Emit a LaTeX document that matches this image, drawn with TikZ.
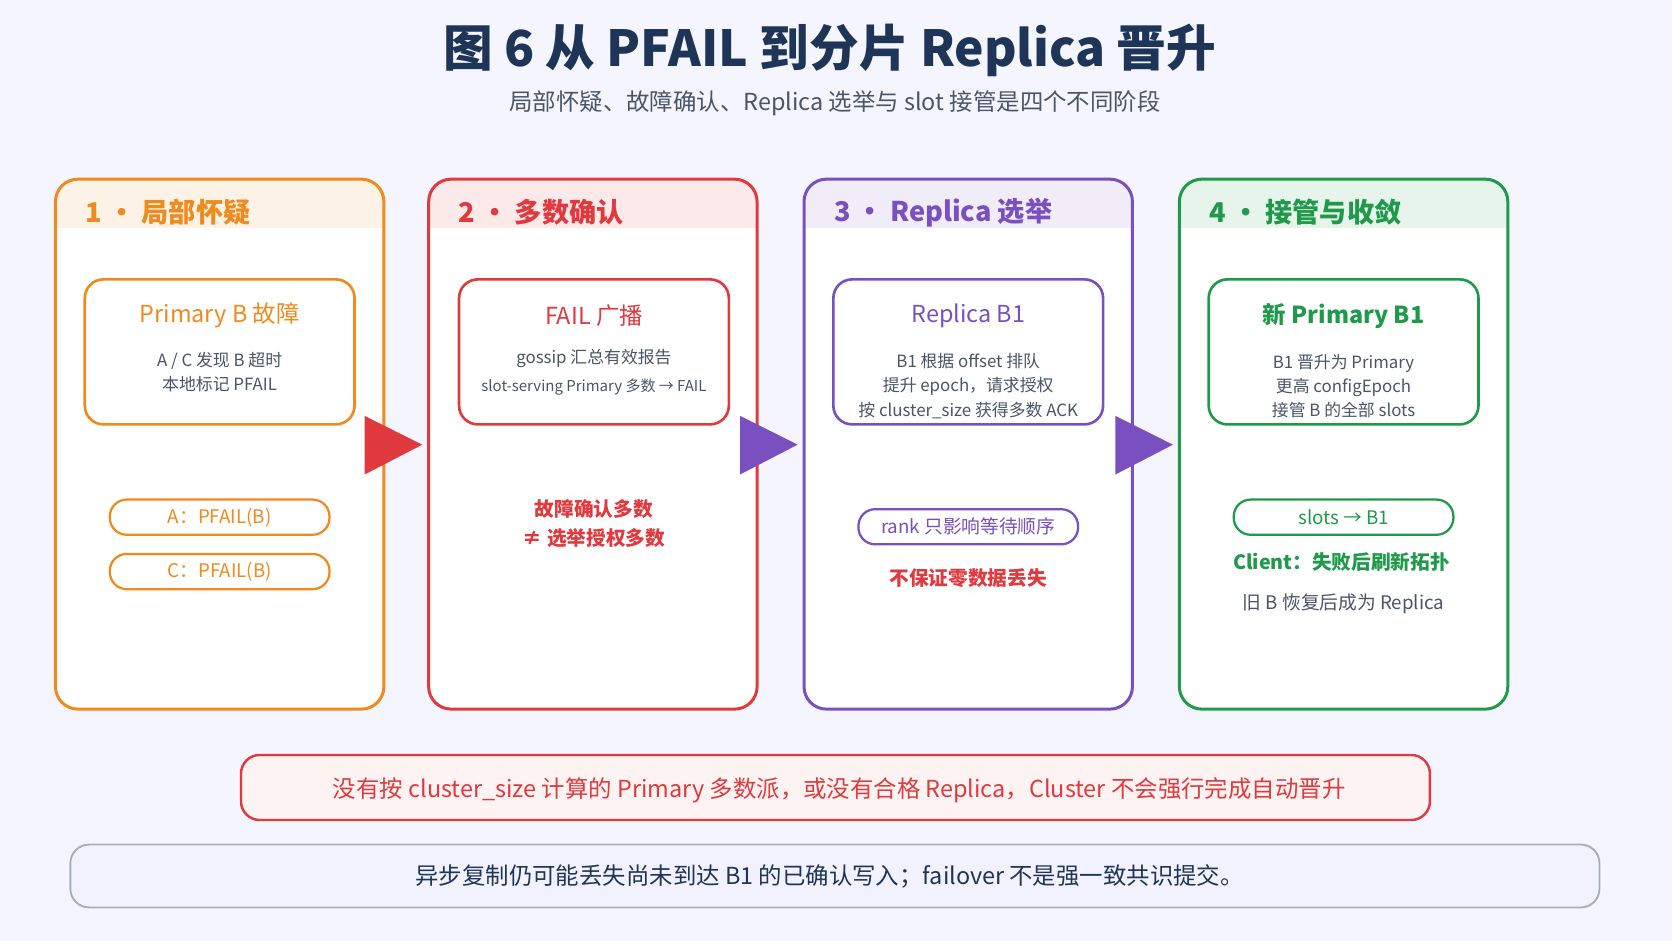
\documentclass[tikz,border=0pt]{standalone}
\usepackage{fontspec}
\setmainfont{Noto Sans CJK SC}
\usetikzlibrary{positioning}
\definecolor{cOra}{HTML}{F08A1C}
\definecolor{cRed}{HTML}{E0393E}
\definecolor{cPur}{HTML}{7A4FC0}
\definecolor{cGrn}{HTML}{1E9A4A}
\definecolor{cNavy}{HTML}{1F3558}
\definecolor{cGray}{HTML}{4A5568}
\begin{document}
\begin{tikzpicture}[x=0.02cm,y=-0.02cm]
    \tikzset{
    stage/.style={draw=#1,line width=1.6pt,rounded corners=12pt},
    stage head/.style={font=\fontsize{14.5}{16}\selectfont\bfseries,text=#1,anchor=west},
    inner box/.style={draw=#1,line width=1.4pt,rounded corners=10pt,fill=white,minimum width=253*0.02cm,minimum height=136*0.02cm},
    tag/.style={draw=#1,line width=1.2pt,rounded corners=9pt,minimum width=206*0.02cm,minimum height=33*0.02cm,text=#1,font=\fontsize{10}{11}\selectfont},
    box title/.style={font=\fontsize{12.5}{14}\selectfont,text=#1},
    box text/.style={font=\fontsize{9}{13}\selectfont,text=cGray,align=center},
    red note/.style={font=\fontsize{10.5}{15}\selectfont\bfseries,text=cRed,align=center}
    }
    \useasboundingbox (0,0) rectangle (1568,882);
    \fill[white!96!blue] (0,0) rectangle (1568,882);
    % title
    \node[font=\fontsize{26.5}{30}\selectfont\bfseries,text=cNavy] (title) at (778,47) {图 6 从 PFAIL 到分片 Replica 晋升};
    \node[font=\fontsize{12.5}{14}\selectfont,text=cGray] (subtitle) at (783,97) {局部怀疑、故障确认、Replica 选举与 slot 接管是四个不同阶段};
    % stages
    \foreach \x/\c/\h in {52/cOra/1 · 局部怀疑,402/cRed/2 · 多数确认,754/cPur/3 · Replica 选举,1106/cGrn/4 · 接管与收敛}{
        \fill[white,rounded corners=12pt] (\x,168) rectangle ++(308,497);
        \fill[\c!11,rounded corners=12pt] (\x,168) rectangle ++(308,60);
        \fill[white] (\x+1,214) rectangle ++(306,14);
        \draw[stage=\c] (\x,168) rectangle ++(308,497);
        \node[stage head=\c] at (\x+22,199) {\h};
    }
    % inner boxes
    \node[inner box=cOra] (b1) at (206,330) {};
    \node[box title=cOra] at (206,296) {Primary B 故障};
    \node[box text] at (206,349) {A / C 发现 B 超时\\本地标记 PFAIL};
    \node[inner box=cRed] (b2) at (557,330) {};
    \node[box title=cRed] at (557,296) {FAIL 广播};
    \node[box text] at (557,336) {gossip 汇总有效报告};
    \node[box text,font=\fontsize{8}{9}\selectfont] at (557,363) {slot-serving Primary 多数 → FAIL};
    \node[inner box=cPur] (b3) at (908,330) {};
    \node[box title=cPur] at (908,296) {Replica B1};
    \node[box text] at (908,362) {B1 根据 offset 排队\\提升 epoch，请求授权\\按 cluster\_size 获得多数 ACK};
    \node[inner box=cGrn] (b4) at (1260,330) {};
    \node[box title=cGrn,font=\fontsize{12.5}{14}\selectfont\bfseries] at (1260,296) {新 Primary B1};
    \node[box text] at (1260,362) {B1 晋升为 Primary\\更高 configEpoch\\接管 B 的全部 slots};
    % arrows between stages
    \foreach \x/\c in {342/cRed,694/cPur,1046/cPur}
        \fill[\c] (\x,390) -- (\x+54,417) -- (\x,445) -- cycle;
    % stage 1 tags
    \node[tag=cOra] (t1) at (206,485) {A：PFAIL(B)};
    \node[tag=cOra] (t2) at (206,536) {C：PFAIL(B)};
    % stage 2 note
    \node[red note] (n2) at (557,491) {故障确认多数\\≠ 选举授权多数};
    % stage 3
    \node[tag=cPur,text=cPur] (t3) at (908,494) {rank 只影响等待顺序};
    \node[red note] (n3) at (908,542) {不保证零数据丢失};
    % stage 4
    \node[tag=cGrn] (t4) at (1260,485) {slots → B1};
    \node[font=\fontsize{10.5}{12}\selectfont\bfseries,text=cGrn] (n4) at (1258,527) {Client：失败后刷新拓扑};
    \node[box text,font=\fontsize{10}{12}\selectfont] (n5) at (1260,566) {旧 B 恢复后成为 Replica};
    % bottom boxes
    \draw[cRed,line width=1.3pt,fill=cRed!6,rounded corners=10pt] (226,708) rectangle (1341,769);
    \node[font=\fontsize{12.5}{14}\selectfont,text=cRed] (warn) at (787,741) {没有按 cluster\_size 计算的 Primary 多数派，或没有合格 Replica，Cluster 不会强行完成自动晋升};
    \draw[cNavy!40,line width=1pt,fill=blue!5,rounded corners=10pt] (66,792) rectangle (1500,851);
    \node[font=\fontsize{12.5}{14}\selectfont,text=cNavy] (sum) at (778,822) {异步复制仍可能丢失尚未到达 B1 的已确认写入；failover 不是强一致共识提交。};
\end{tikzpicture}
\end{document}
